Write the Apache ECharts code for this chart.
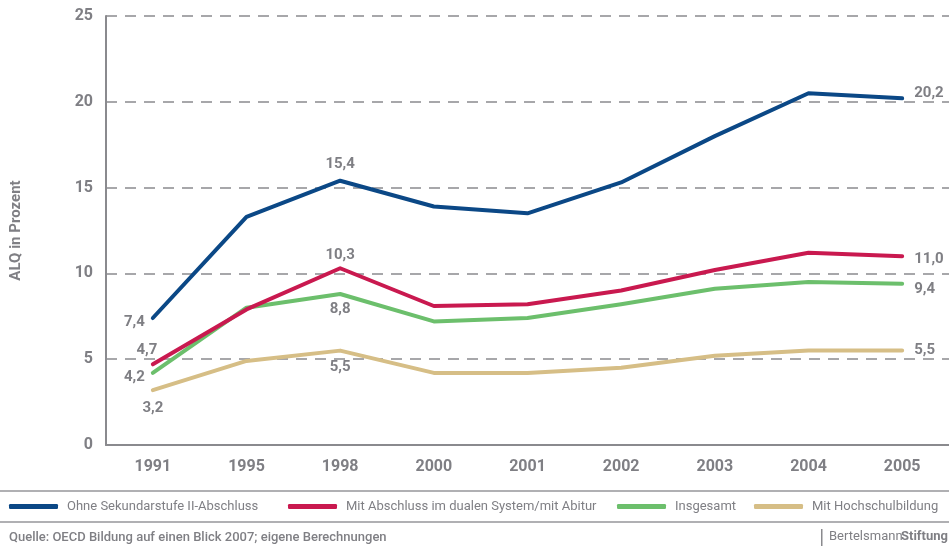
<!DOCTYPE html>
<html><head><meta charset="utf-8">
<script src="https://cdn.jsdelivr.net/npm/echarts@6/dist/echarts.min.js"></script>
<style>html,body{margin:0;padding:0;background:#fff}#c{width:949px;height:549px}</style>
</head><body><div id="c"></div>
<script>
const years = ['1991','1995','1998','2000','2001','2002','2003','2004','2005'];
const ohneSek = [7.4, 13.3, 15.4, 13.9, 13.5, 15.3, 18.0, 20.5, 20.2];
const dualAbitur = [4.7, 7.9, 10.3, 8.1, 8.2, 9.0, 10.2, 11.2, 11.0];
const insgesamt = [4.2, 8.0, 8.8, 7.2, 7.4, 8.2, 9.1, 9.5, 9.4];
const hochschule = [3.2, 4.9, 5.5, 4.2, 4.2, 4.5, 5.2, 5.5, 5.5];
const seriesNames = ['Ohne Sekundarstufe II-Abschluss','Mit Abschluss im dualen System/mit Abitur','Insgesamt','Mit Hochschulbildung'];
const yTicks = [0, 5, 10, 15, 20, 25];

const FONT = 'Roboto,"Open Sans",sans-serif';
const GRAY = '#7f7f84';
const colors = ['#0b4886','#c9194f','#6cbf6c','#d6be86'];

function fmt(v){ return v.toFixed(1).replace('.', ','); }
function lbl(pos, extra){ return Object.assign({show:true, position:pos, formatter:p=>fmt(p.value), color:GRAY, fontFamily:FONT, fontWeight:'bold', fontSize:15}, extra||{}); }

const labelSpecs = [
  {0: lbl('left',{distance:8, offset:[0,4]}), 2: lbl('top',{distance:9}), 8: lbl('right',{distance:12, offset:[0,-5]})},
  {0: lbl('top',{distance:7, offset:[-6,0]}), 2: lbl('top',{distance:6}), 8: lbl('right',{distance:12, offset:[0,3]})},
  {0: lbl('left',{distance:8, offset:[0,4]}), 2: lbl('bottom',{distance:8}), 8: lbl('right',{distance:12, offset:[0,6]})},
  {0: lbl('bottom',{distance:11}), 2: lbl('bottom',{distance:9}), 8: lbl('right',{distance:12, offset:[0,0]})}
];
const allData = [ohneSek, dualAbitur, insgesamt, hochschule];

const series = allData.map((arr, si) => ({
  name: seriesNames[si], type:'line', symbol:'circle', symbolSize:0, showSymbol:true, smooth:false,
  lineStyle:{color:colors[si], width:4, cap:'round', join:'round'},
  itemStyle:{color:colors[si]},
  z: 10 - si,
  data: arr.map((v,i)=> labelSpecs[si][i] ? {value:v, label:labelSpecs[si][i]} : {value:v})
}));

const legendLefts = [9, 288, 617, 754];
const legends = seriesNames.map((n,i)=>({
  data:[n], left:legendLefts[i], top:500, icon:'roundRect', itemWidth:49, itemHeight:5, itemGap:6,
  textStyle:{color:GRAY, fontFamily:FONT, fontSize:13, padding:[0,0,0,4]}, selectedMode:false, padding:0
}));

const chart = echarts.init(document.getElementById('c'), null, {renderer:'canvas'});
chart.setOption({
  animation:false,
  backgroundColor:'#fff',
  grid:{left:106, top:16, width:845, bottom:104, containLabel:false},
  legend: legends,
  xAxis:{type:'category', data:years, boundaryGap:true,
    axisLine:{lineStyle:{color:'#8a8a8e', width:2}},
    axisTick:{inside:true, length:10, lineStyle:{color:'#8a8a8e', width:2}},
    axisLabel:{color:GRAY, fontFamily:FONT, fontWeight:'bold', fontSize:16, margin:14}},
  yAxis:{type:'value', min:0, max:25, interval:5,
    name:'ALQ in Prozent', nameLocation:'middle', nameGap:82, nameRotate:90,
    nameTextStyle:{color:GRAY, fontFamily:FONT, fontWeight:'bold', fontSize:15},
    axisLine:{show:true, lineStyle:{color:'#8a8a8e', width:2}},
    axisTick:{show:false},
    axisLabel:{color:GRAY, fontFamily:FONT, fontWeight:'bold', fontSize:16, margin:13,
      formatter:v=> yTicks.includes(v) ? String(v) : ''},
    splitLine:{lineStyle:{color:'#8a8a8e', width:1.5, type:[11,8]}}},
  series: series,
  graphic:[
    {type:'rect', shape:{x:0,y:490,width:949,height:2}, style:{fill:'#b0b0b3'}, silent:true},
    {type:'rect', shape:{x:0,y:521,width:949,height:2}, style:{fill:'#b0b0b3'}, silent:true},
    {type:'text', left:9, top:531, style:{text:'Quelle: OECD Bildung auf einen Blick 2007; eigene Berechnungen', fill:GRAY, font:'500 13px '+FONT}},
    {type:'rect', shape:{x:821,y:529,width:1.5,height:17}, style:{fill:'#8a8a8e'}, silent:true},
    {type:'text', left:829, top:530, style:{text:'Bertelsmann', fill:GRAY, font:'13px '+FONT}},
    {type:'text', left:901, top:530, style:{text:'Stiftung', fill:GRAY, font:'bold 13px '+FONT}}
  ]
});
</script></body></html>
